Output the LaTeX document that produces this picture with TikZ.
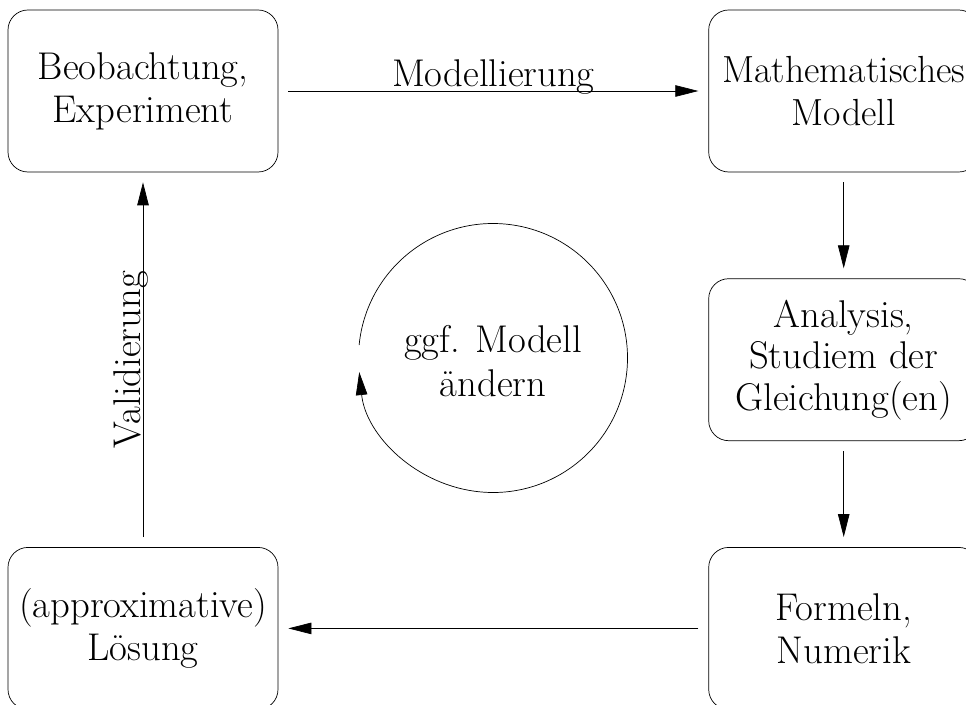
\documentclass[tikz,border=0pt]{standalone}
\usepackage{tikz}
\usetikzlibrary{positioning,arrows.meta}

\begin{document}
\begin{tikzpicture}
    [>={Triangle[length=0.46cm,width=0.23cm]},
     every node/.style={font=\fontsize{22}{24.5}\selectfont},
     stage/.style={draw, rounded corners=0.4cm, minimum width=5.4cm,
       minimum height=3.24cm, align=center, inner sep=0pt},
     flow/.style={->, shorten <=0.2cm, shorten >=0.2cm}]
  \clip (0,0) rectangle (19.32,14.08);

  \node[stage] (obs) at (2.86,12.26) {Beobachtung,\\Experiment};
  \node[stage, font=\fontsize{21.5}{24.5}\selectfont] (model) [right=8.6cm of obs]
    {Mathematisches\\Modell};
  \node[stage, font=\fontsize{22}{23.6}\selectfont] (ana) [below=2.12cm of model]
    {Analysis,\\Studiem der\\Gleichung(en)};
  \node[stage] (num) [below=2.12cm of ana] {Formeln,\\Numerik};
  \node[stage] (sol) [left=8.6cm of num] {(approximative)\\L\"osung};

  \draw[flow] (obs) -- node[anchor=base, yshift=0.08cm] (modlab) {Modellierung} (model);
  \draw[flow] (model) -- (ana);
  \draw[flow] (ana) -- (num);
  \draw[flow] (num) -- (sol);
  \draw[flow] (sol) -- node[anchor=base, rotate=90, yshift=0.05cm] (vallab) {Validierung} (obs);

  % Kreislauf in der Mitte
  \coordinate (mid) at (9.86,6.92);
  \node[align=center, font=\fontsize{22}{25.5}\selectfont] (change) at ([yshift=-0.06cm]mid)
    {ggf. Modell\\\"andern};
  \draw[->] (mid) ++(174.5:2.69) arc[start angle=174.5, end angle=-174, radius=2.69];
\end{tikzpicture}
\end{document}
